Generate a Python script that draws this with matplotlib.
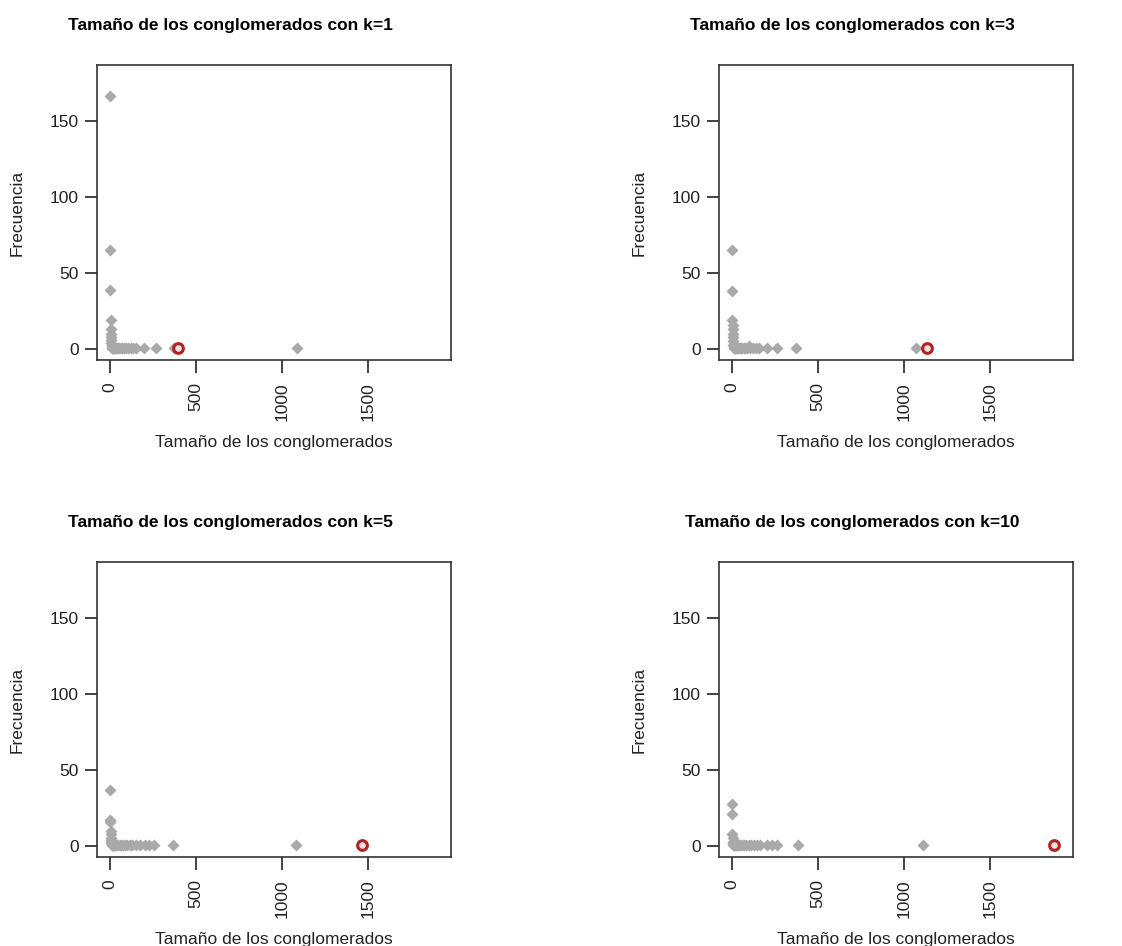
import matplotlib
matplotlib.use("Agg")
import matplotlib.pyplot as plt

plt.rcParams['font.family'] = ['Liberation Sans', 'DejaVu Sans']

## tamaño del conglomerado (x) y su frecuencia (y), uno por cada k
ks = [1, 3, 5, 10]

x_k1 = [1, 2, 3, 4, 5, 6, 7, 8, 9, 10, 11, 12, 13, 15, 17, 19, 22, 25, 28, 32, 36,
        41, 47, 54, 62, 70, 80, 92, 105, 120, 135, 150, 200, 267, 372, 1091]
y_k1 = [167, 65, 39, 19, 13, 10, 8, 6, 4, 3, 2, 2, 1, 1, 1, 1, 1, 1, 1, 1, 1,
        1, 1, 1, 1, 1, 1, 1, 1, 1, 1, 1, 1, 1, 1, 1]

x_k3 = [1, 2, 3, 4, 5, 6, 7, 8, 9, 10, 11, 12, 14, 16, 18, 21, 24, 27, 31, 35,
        40, 46, 53, 60, 68, 78, 90, 100, 105, 120, 140, 155, 207, 265, 374, 1072]
y_k3 = [65, 38, 19, 16, 13, 10, 8, 5, 3, 2, 2, 1, 1, 1, 1, 1, 1, 1, 1, 1,
        1, 1, 1, 1, 1, 1, 1, 2, 1, 1, 1, 1, 1, 1, 1, 1]

x_k5 = [1, 2, 3, 4, 5, 6, 7, 8, 9, 10, 12, 14, 16, 19, 22, 26, 30, 35, 41, 48,
        56, 65, 75, 88, 100, 115, 130, 150, 178, 203, 227, 256, 365, 1085]
y_k5 = [37, 17, 16, 10, 8, 5, 4, 3, 2, 2, 1, 1, 1, 1, 1, 1, 1, 1, 1, 1,
        1, 1, 1, 1, 1, 1, 1, 1, 1, 1, 1, 1, 1, 1]

x_k10 = [1, 2, 3, 4, 5, 6, 7, 8, 10, 12, 14, 17, 20, 24, 28, 33, 39, 46, 54, 63,
         73, 85, 98, 112, 128, 145, 165, 207, 234, 262, 382, 1110]
y_k10 = [28, 21, 8, 5, 3, 2, 2, 1, 1, 1, 1, 1, 1, 1, 1, 1, 1, 1, 1, 1,
         1, 1, 1, 1, 1, 1, 1, 1, 1, 1, 1, 1]

## el conglomerado resaltado en rojo
red_x = [395, 1134, 1467, 1876]
red_y = [1, 1, 1, 1]

xs = [x_k1, x_k3, x_k5, x_k10]
ys = [y_k1, y_k3, y_k5, y_k10]

fig = plt.figure(figsize=(11.22, 9.46), dpi=100)

## posiciones de los paneles en pixeles: izquierda, arriba
boxes = [(97, 65), (719, 65), (97, 562), (719, 562)]
W, H = 1122, 946
bw, bh = 354, 295

for i in range(4):
    left, top = boxes[i]
    ax = fig.add_axes([left / W, 1 - (top + bh) / H, bw / W, bh / H])
    ax.plot(xs[i], ys[i], 'D', color='#A9A9A9', ms=6.5, mec='none', clip_on=False)
    ax.plot(red_x[i], red_y[i], 'o', ms=7, mfc='#f4dede', mec='#B22222', mew=2.2)
    ax.set_xlim(-75, 1985)
    ax.set_ylim(-7.2, 187.2)
    ax.set_xticks([0, 500, 1000, 1500])
    ax.set_yticks([0, 50, 100, 150])
    ax.tick_params(axis='x', labelrotation=90, length=9, width=1.2, labelsize=12.5,
                   pad=7, colors='#222222')
    ax.tick_params(axis='y', length=9, width=1.2, labelsize=12.5, pad=4, colors='#222222')
    for s in ax.spines.values():
        s.set_linewidth(1.2)
        s.set_color('#333333')
    ax.set_xlabel("Tamaño de los conglomerados", fontsize=12.5, labelpad=10, color='#222222')
    ax.set_ylabel("Frecuencia", fontsize=12.5, labelpad=18, color='#222222')
    ax.set_title("Tamaño de los conglomerados con k=" + str(ks[i]),
                 fontsize=12.5, fontweight='bold', x=0.377, pad=25)

plt.savefig("out.png", dpi=100)
